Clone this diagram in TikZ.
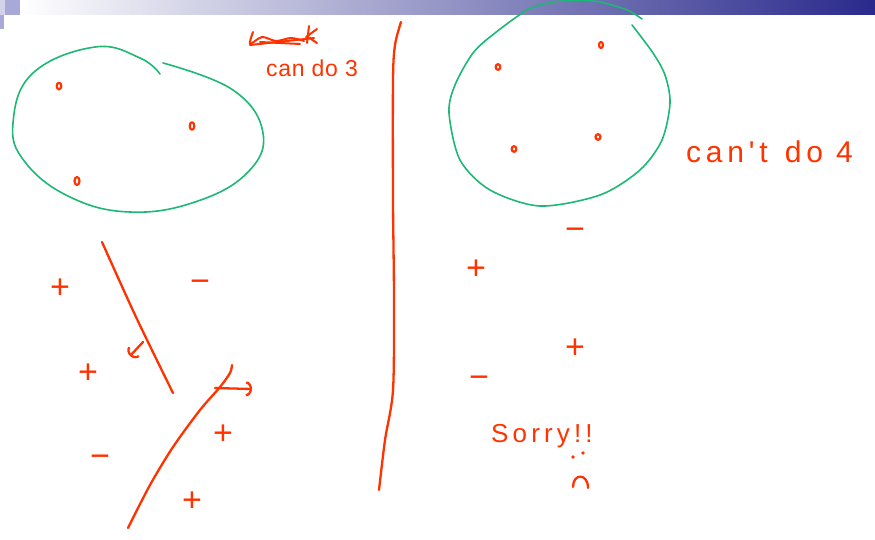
\documentclass[tikz,border=0pt]{standalone}
\usepackage{fontspec}
\usepackage{tikz}
\usetikzlibrary{arrows.meta}
\newfontfamily\handfont[LetterSpace=3]{Liberation Sans}
\newfontfamily\widehand[LetterSpace=16]{Liberation Sans}
\definecolor{PenRed}{HTML}{FF3300}
\definecolor{PenGreen}{HTML}{1DB874}
\definecolor{BarBlue}{HTML}{29298C}
\definecolor{BarGray}{HTML}{C3C4D3}
\definecolor{TabLilac}{HTML}{A9A9D9}
\definecolor{TabPale}{HTML}{D2D2EA}
\tikzset{
    % Red pen stroke
    redpen/.style={
        draw=PenRed,
        line width=2.3pt,
        line cap=round,
        line join=round
    },
    % Green pen stroke
    greenpen/.style={
        draw=PenGreen,
        line width=1.6pt,
        line cap=round
    },
    % Hand written label
    handtext/.style={
        text=PenRed,
        inner sep=0pt,
        anchor=base west,
        font=\handfont\fontsize{23}{23}\selectfont
    },
    % Plus and minus signs
    signnode/.style={
        text=PenRed,
        inner sep=0pt,
        font=\handfont\fontsize{34}{34}\selectfont
    },
    % Small data point
    datapoint/.style={
        redpen,
        line width=2.2pt
    },
    % Normal arrow
    penarrow/.style={
        redpen,
        -{Arc Barb[length=6pt, width=15pt, line width=2.3pt]}
    }
}

\begin{document}
\begin{tikzpicture}[x=1pt, y=-1pt]
        \useasboundingbox (0,0) rectangle (875,539);

        % Title bar
        \shade[left color=white, middle color=BarGray, right color=BarBlue] (20,0) rectangle (875,14.5);
        \fill[TabLilac] (5,0) rectangle (20,14.5);
        \fill[TabPale] (0,0) rectangle (5,14.5);
        \fill[TabLilac] (0,14.5) rectangle (4.3,29);

        % Left set
        \draw[greenpen] plot[smooth, tension=0.7] coordinates {(163,63) (233,90) (263,133) (247,173) (195,202) (130,212) (70,197) (25,162) (13,123) (33,73) (95,47) (140,58) (160,74)};
        \draw[datapoint] (59,86) ellipse (2.3 and 3.3);
        \draw[datapoint] (192,126) ellipse (2.3 and 3.8);
        \draw[datapoint] (77,181) ellipse (2.5 and 4);

        % Crossed out word
        \draw[redpen, line width=2pt] plot[smooth] coordinates {(253,32) (250,44) (262,37) (276,41) (291,38) (304,41)};
        \draw[redpen, line width=2pt] (250,45) -- (314,38);
        \draw[redpen, line width=2pt] (260,42) -- (300,44);
        \draw[redpen, line width=2pt] (309,26) -- (307,43);
        \draw[redpen, line width=2pt] (306,37) -- (317,29);
        \draw[redpen, line width=2pt] (308,37) -- (317,43);
        \node[handtext] (cando) at (266,76) {can do 3};

        % Dividing line
        \draw[redpen] plot[smooth] coordinates {(401,22) (395,45) (393,80) (393,200) (394,300) (393,390) (385,440) (379,490)};

        % Right set
        \draw[greenpen] plot[smooth] coordinates {(642,19) (627,10) (600,2) (575,0) (548,3) (527,10) (495,33) (473,53) (455,85) (449,113) (460,160) (490,190) (540,206) (600,195) (640,170) (662,140) (670,103) (665,75) (653,53) (632,25)};
        \draw[datapoint] (498,67) ellipse (2.3 and 2.8);
        \draw[datapoint] (601,45) ellipse (2 and 3);
        \draw[datapoint] (514,149) ellipse (2.3 and 2.8);
        \draw[datapoint] (598,137) ellipse (2.5 and 2.8);
        \node[handtext, font=\widehand\fontsize{30}{30}\selectfont] (cantdo) at (686,162) {can't\hspace{4pt} do 4};

        % Left separators
        \draw[redpen] plot[smooth, tension=0.5] coordinates {(102,242) (136,317) (173,393)};
        \draw[penarrow] (143,342) -- (130,356);
        \draw[redpen] plot[smooth] coordinates {(128,528) (150,485) (173,447) (200,410) (220,387) (230,373) (232,365)};
        \draw[penarrow] (215,388) -- (252,389);

        % Left signs
        \node[signnode] (pa) at (60,289) {+};
        \node[signnode] (ma) at (200,286) {−};
        \node[signnode] (pb) at (88,374) {+};
        \node[signnode] (mb) at (100,461) {−};
        \node[signnode] (pc) at (223,435) {+};
        \node[signnode] (pd) at (192,502) {+};

        % Right signs
        \node[signnode] (mc) at (575,234) {−};
        \node[signnode] (pe) at (476,270) {+};
        \node[signnode] (pf) at (575,349) {+};
        \node[signnode] (md) at (479,382) {−};

        % Apology
        \node[handtext, font=\widehand\fontsize{26}{26}\selectfont] (sorry) at (491,442) {Sorry!!};
        \fill[PenRed] (573,457) circle (1.8);
        \fill[PenRed] (583,453) circle (1.8);
        \draw[redpen] (573,487) .. controls (573,473) and (588,473) .. (588,488);
    \end{tikzpicture}
\end{document}
